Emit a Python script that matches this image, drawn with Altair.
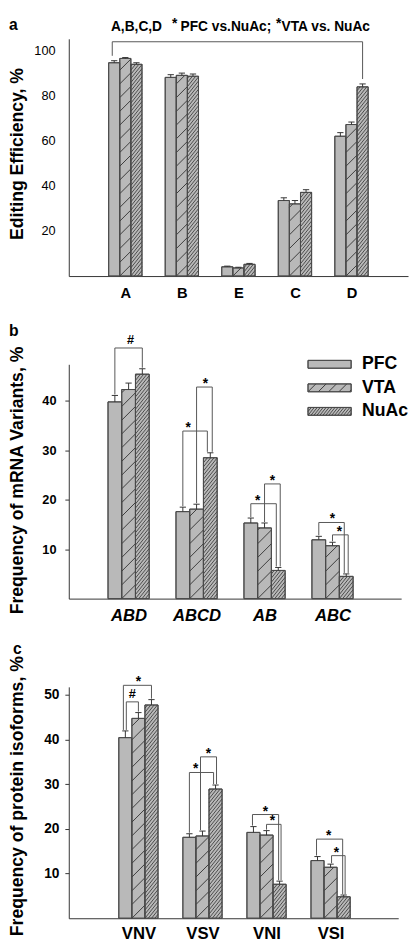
import math
import altair as alt
import pandas as pd

FONT = "Liberation Sans"
SERIES = ["PFC", "VTA", "NuAc"]

# ---------------- panel a ----------------
A_CATS = ["A", "B", "E", "C", "D"]
A_PFC = [94.6, 88.1, 4.1, 33.5, 62.0]
A_VTA = [96.5, 89.0, 3.6, 32.0, 67.2]
A_NUAC = [93.9, 88.6, 5.2, 37.1, 83.9]
A_PFC_ERR = [0.9, 1.2, 0.3, 1.2, 1.6]
A_VTA_ERR = [0.4, 1.0, 0.3, 1.5, 1.1]
A_NUAC_ERR = [0.7, 1.0, 0.4, 1.2, 1.3]
A_TICKS = [20, 40, 60, 80, 100]
# bracket: (left group, left series, right group, right series, level, dx_left px, dx_right px, label, label dx px)
A_BRACKETS = [(0, 0, 4, 2, 103.9, -2, 0, "", 0)]

# ---------------- panel b ----------------
B_CATS = ["ABD", "ABCD", "AB", "ABC"]
B_PFC = [39.8, 17.6, 15.3, 11.9]
B_VTA = [42.3, 18.1, 14.3, 10.7]
B_NUAC = [45.4, 28.5, 5.7, 4.5]
B_PFC_ERR = [1.3, 0.9, 1.0, 0.7]
B_VTA_ERR = [1.3, 1.0, 1.0, 0.7]
B_NUAC_ERR = [1.1, 1.0, 0.6, 0.5]
B_TICKS = [10, 20, 30, 40]
B_BRACKETS = [
    (0, 0, 0, 2, 50.7, 0, 0, "#", 2),
    (1, 0, 1, 2, 33.9, 0, -3, "*", -7),
    (1, 1, 1, 2, 42.8, 0, 2, "*", 1),
    (2, 0, 2, 2, 19.2, 0, -2, "*", -6),
    (2, 1, 2, 2, 23.2, 0, 2, "*", 0),
    (3, 0, 3, 2, 15.4, 0, -2, "*", 1),
    (3, 1, 3, 2, 12.9, 0, 2, "*", -1),
]

# ---------------- panel c ----------------
C_CATS = ["VNV", "VSV", "VNI", "VSI"]
C_PFC = [40.4, 18.1, 19.2, 12.9]
C_VTA = [44.7, 18.4, 18.6, 11.4]
C_NUAC = [47.7, 28.9, 7.6, 4.8]
C_PFC_ERR = [1.5, 0.8, 1.3, 0.9]
C_VTA_ERR = [1.3, 1.1, 1.0, 0.7]
C_NUAC_ERR = [1.2, 0.9, 0.7, 0.4]
C_TICKS = [10, 20, 30, 40, 50]
C_BRACKETS = [
    (0, 0, 0, 2, 52.1, -2, 0, "*", 1),
    (0, 0, 0, 1, 48.4, 1, 0, "#", 0),
    (1, 0, 1, 2, 32.6, 0, -2, "*", -6),
    (1, 1, 1, 2, 36.1, -2, 1, "*", 0),
    (2, 0, 2, 2, 23.2, -1, -1, "*", 0),
    (2, 1, 2, 2, 21.0, 0, 1.5, "*", -1.5),
    (3, 0, 3, 2, 17.7, -1, -1, "*", -1),
    (3, 1, 3, 2, 14.0, 1, 1.5, "*", -2),
]

FILL = "#b9b9b9"
EDGE = "#4a4a4a"
INK = "#333333"
PLOT_LEFT = 69  # page x of the y axes


def hatch(x0, x1, v, sx, sy, spacing, slope, phase=0.0):
    w = (x1 - x0) * sx
    h = v * sy
    out = []
    if h <= 0:
        return out
    n0 = math.ceil((-slope * w - phase) / spacing)
    n1 = math.floor((h - phase) / spacing)
    for n in range(n0, n1 + 1):
        c = n * spacing + phase
        xa = max(0.0, -c / slope)
        xb = min(w, (h - c) / slope)
        if xb - xa < 0.4:
            continue
        out.append(dict(x=x0 + xa / sx, y=(slope * xa + c) / sy,
                        x2=x0 + xb / sx, y2=(slope * xb + c) / sy))
    return out


HATCH = {1: dict(spacing=14.0, slope=1.0, width=0.9),
         2: dict(spacing=4.2, slope=1.25, width=0.8)}


class Enc:
    """Shared scales and axes of one panel, so every layer merges cleanly."""

    def __init__(self, xs, ys, xa, ya, cfg, sx, sy):
        self.xs, self.ys, self.xa, self.ya = xs, ys, xa, ya
        self.cfg, self.sx, self.sy = cfg, sx, sy

    def x(self, f):
        return alt.X(f"{f}:Q", scale=self.xs, axis=self.xa)

    def y(self, f):
        return alt.Y(f"{f}:Q", scale=self.ys, axis=self.ya)

    # page position -> data units (for annotations)
    def px(self, p):
        return self.cfg["xdom"][0] + (p - PLOT_LEFT) / self.sx

    def py(self, p):
        return self.cfg["ymax"] - (p - self.cfg["top"]) / self.sy


def text_layer(df, E, size, weight="bold", align="left", baseline="alphabetic",
               dy=0, style="normal"):
    return alt.Chart(df).mark_text(
        font=FONT, fontSize=size, fontWeight=weight, align=align, baseline=baseline,
        dy=dy, fontStyle=style, color="#000"
    ).encode(x=E.x("x"), y=E.y("y"), text="text:N")


def rules(df, E, color=INK, width=1.0):
    return alt.Chart(df).mark_rule(color=color, strokeWidth=width).encode(
        x=E.x("x"), x2="x2:Q", y=E.y("y"), y2="y2:Q")


def panel(cats, vals, errs, brackets, cfg):
    W, H = cfg["W"], cfg["H"]
    xmin, xmax = cfg["xdom"]
    ymax = cfg["ymax"]
    sx = W / (xmax - xmin)
    sy = H / ymax
    bw = cfg["barpx"] / sx
    xs = alt.Scale(domain=[xmin, xmax], nice=False, zero=False)
    ys = alt.Scale(domain=[0, ymax], nice=False, zero=False)

    labels = "[" + ",".join("'%s'" % c for c in cats) + "]"
    x_axis = alt.Axis(values=list(range(1, len(cats) + 1)),
                      labelExpr=labels + "[round(datum.value) - 1]",
                      ticks=False, tickSize=0, grid=False, title=None,
                      labelFontSize=cfg["xlab_size"], labelFontWeight="bold",
                      labelFontStyle=cfg["xlab_style"], labelPadding=cfg["xlab_pad"],
                      labelFont=FONT, labelColor="#000", domainColor=INK,
                      labelFlush=False, labelOverlap=False)
    y_axis = alt.Axis(values=cfg["ticks"], grid=False, title=cfg["title"],
                      titleFont=FONT, titleFontSize=cfg["title_size"], titleFontWeight="bold",
                      titleColor="#000", titleAngle=270, titleAlign="center",
                      titleBaseline="middle", titleX=cfg["titleX"],
                      titleY=cfg["title_center"] - cfg["top"],
                      labelFont=FONT, labelFontSize=cfg["ylab_size"],
                      labelFontWeight=cfg["ylab_weight"], labelColor="#000",
                      labelPadding=cfg["ylab_pad"], ticks=cfg["yticks"],
                      tickSize=cfg["ticksize"], tickColor=INK, domainColor=INK)
    E = Enc(xs, ys, x_axis, y_axis, cfg, sx, sy)

    bars, hat = [], []
    pos = {}
    for gi, cat in enumerate(cats):
        for si, s in enumerate(SERIES):
            xc = gi + 1 + (si - 1) * bw
            v = vals[si][gi]
            e = errs[si][gi]
            pos[(gi, si)] = (xc, v + e)
            bars.append(dict(cat=cat, series=s, x0=xc - bw / 2, x1=xc + bw / 2,
                             y0=0.0, v=v, e=e, xc=xc, top=v + e))
            if si in HATCH:
                for seg in hatch(xc - bw / 2, xc + bw / 2, v, sx, sy,
                                 HATCH[si]["spacing"], HATCH[si]["slope"]):
                    seg["series"] = s
                    hat.append(seg)
    bdf = pd.DataFrame(bars)
    hdf = pd.DataFrame(hat)

    layers = []
    layers.append(alt.Chart(bdf).mark_rect(fill=FILL, stroke=EDGE, strokeWidth=1).encode(
        x=E.x("x0"), x2="x1:Q", y=E.y("y0"), y2="v:Q"))
    for si in (1, 2):
        sub = hdf[hdf["series"] == SERIES[si]]
        layers.append(rules(sub, E, color="#2e2e2e", width=HATCH[si]["width"]))
    layers.append(alt.Chart(bdf).mark_rect(fill=None, stroke=EDGE, strokeWidth=1).encode(
        x=E.x("x0"), x2="x1:Q", y=E.y("y0"), y2="v:Q"))

    # error bars (upper half with cap)
    cap = 3.2 / sx
    err = []
    for r in bars:
        err.append(dict(x=r["xc"], x2=r["xc"], y=r["v"], y2=r["top"]))
        err.append(dict(x=r["xc"] - cap, x2=r["xc"] + cap, y=r["top"], y2=r["top"]))
    layers.append(rules(pd.DataFrame(err), E, color=INK, width=1.0))

    # significance brackets
    gap = cfg["gap"] / sy
    seg, lab = [], []
    for (gl, sl, gr, sr, lev, dxl, dxr, txt, ldx) in brackets:
        xl = pos[(gl, sl)][0] + dxl / sx
        xr = pos[(gr, sr)][0] + dxr / sx
        bl = pos[(gl, sl)][1] + gap
        br = pos[(gr, sr)][1] + gap
        seg.append(dict(x=xl, x2=xl, y=bl, y2=lev))
        seg.append(dict(x=xr, x2=xr, y=br, y2=lev))
        seg.append(dict(x=xl, x2=xr, y=lev, y2=lev))
        if txt:
            lab.append(dict(x=(xl + xr) / 2 + ldx / sx, y=lev, text=txt))
    layers.append(rules(pd.DataFrame(seg), E, color="#555555", width=1.0))
    if lab:
        ldf = pd.DataFrame(lab)
        stars = ldf[ldf["text"] == "*"]
        hashes = ldf[ldf["text"] == "#"]
        if len(stars):
            layers.append(text_layer(stars, E, 14, align="center", dy=1))
        if len(hashes):
            layers.append(text_layer(hashes, E, 13, align="center", dy=-4))

    for extra in cfg.get("extras", []):
        layers.extend(extra(E))

    return alt.layer(*layers).properties(width=W, height=H)


# ---------- extras (annotation positions given as page pixels) ----------
def a_extras(E):
    main = pd.DataFrame([
        dict(x=E.px(112), y=E.py(22), text="A,B,C,D"),
        dict(x=E.px(183), y=E.py(22), text="PFC vs.NuAc;"),
        dict(x=E.px(286), y=E.py(22), text="VTA vs. NuAc"),
    ])
    star = pd.DataFrame([dict(x=E.px(177), y=E.py(19), text="*"),
                         dict(x=E.px(283), y=E.py(19), text="*")])
    letter = pd.DataFrame([dict(x=E.px(8), y=E.py(8.5), text="a")])
    return [
        text_layer(main, E, 14),
        text_layer(star, E, 14, align="center"),
        text_layer(letter, E, 16, baseline="top"),
    ]


def b_extras(E):
    sx, sy = E.sx, E.sy
    sw_x0, sw_x1 = E.px(313), E.px(357)
    ycs = [E.py(362), E.py(386), E.py(410)]
    half = 4.0 / sy
    sw = pd.DataFrame([dict(x=sw_x0, x2=sw_x1, y=yc - half, y2=yc + half, series=s)
                       for s, yc in zip(SERIES, ycs)])
    hat1, hat2 = [], []
    for si, yc in ((1, ycs[1]), (2, ycs[2])):
        segs = hatch(sw_x0, sw_x1, 2 * half, sx, sy,
                     HATCH[si]["spacing"] * (0.75 if si == 1 else 0.9), HATCH[si]["slope"])
        for s in segs:
            s["y"] += yc - half
            s["y2"] += yc - half
        (hat1 if si == 1 else hat2).extend(segs)
    txt = pd.DataFrame([dict(x=E.px(368), y=yc, text=s) for s, yc in zip(SERIES, ycs)])
    letter = pd.DataFrame([dict(x=E.px(8), y=E.py(333), text="b")])

    def rect(fill):
        return alt.Chart(sw).mark_rect(fill=fill, stroke=EDGE, strokeWidth=1).encode(
            x=E.x("x"), x2="x2:Q", y=E.y("y"), y2="y2:Q")

    return [
        rect(FILL),
        rules(pd.DataFrame(hat1), E, color="#2e2e2e", width=0.9),
        rules(pd.DataFrame(hat2), E, color="#2e2e2e", width=0.8),
        rect(None),
        text_layer(txt, E, 18, baseline="middle"),
        text_layer(letter, E, 16),
    ]


def c_extras(E):
    letter = pd.DataFrame([dict(x=E.px(12), y=E.py(657), text="c")])
    return [text_layer(letter, E, 16)]


SPACING = 90
A_CFG = dict(top=30, W=346, H=242, xdom=(0.0, 6.0), ymax=242 / 2.3, barpx=11.33,
             ticks=A_TICKS, title="Editing Efficiency, %", title_size=18,
             titleX=-52, title_center=147,
             ylab_size=13, ylab_weight="normal", ylab_pad=14, yticks=False, ticksize=0,
             xlab_size=15, xlab_style="normal", xlab_pad=10, gap=5, extras=[a_extras])
B_CFG = dict(top=30 + 242 + SPACING, W=339, H=239, xdom=(0.12, 5.01), ymax=239 / 5.042,
             barpx=14.0, ticks=B_TICKS, title="Frequency of mRNA Variants, %", title_size=18,
             titleX=-52, title_center=480,
             ylab_size=13, ylab_weight="bold", ylab_pad=9, yticks=True, ticksize=4,
             xlab_size=17, xlab_style="italic", xlab_pad=9, gap=1, extras=[b_extras])
C_CFG = dict(top=30 + 242 + 239 + 2 * SPACING, W=336, H=236, xdom=(-0.087, 5.056),
             ymax=236 / 4.56, barpx=13.33,
             ticks=C_TICKS, title="Frequency of protein isoforms, %", title_size=18,
             titleX=-52, title_center=802,
             ylab_size=14, ylab_weight="bold", ylab_pad=6, yticks=True, ticksize=4,
             xlab_size=17, xlab_style="normal", xlab_pad=8, gap=1, extras=[c_extras])

pa = panel(A_CATS, [A_PFC, A_VTA, A_NUAC], [A_PFC_ERR, A_VTA_ERR, A_NUAC_ERR], A_BRACKETS, A_CFG)
pb = panel(B_CATS, [B_PFC, B_VTA, B_NUAC], [B_PFC_ERR, B_VTA_ERR, B_NUAC_ERR], B_BRACKETS, B_CFG)
pc = panel(C_CATS, [C_PFC, C_VTA, C_NUAC], [C_PFC_ERR, C_VTA_ERR, C_NUAC_ERR], C_BRACKETS, C_CFG)

chart = alt.vconcat(pa, pb, pc, spacing=SPACING, bounds="flush").properties(
    padding=0, background="white"
).configure(font=FONT).configure_view(stroke=None)

chart.save("out.html", embed_options={"renderer": "svg", "actions": False})
